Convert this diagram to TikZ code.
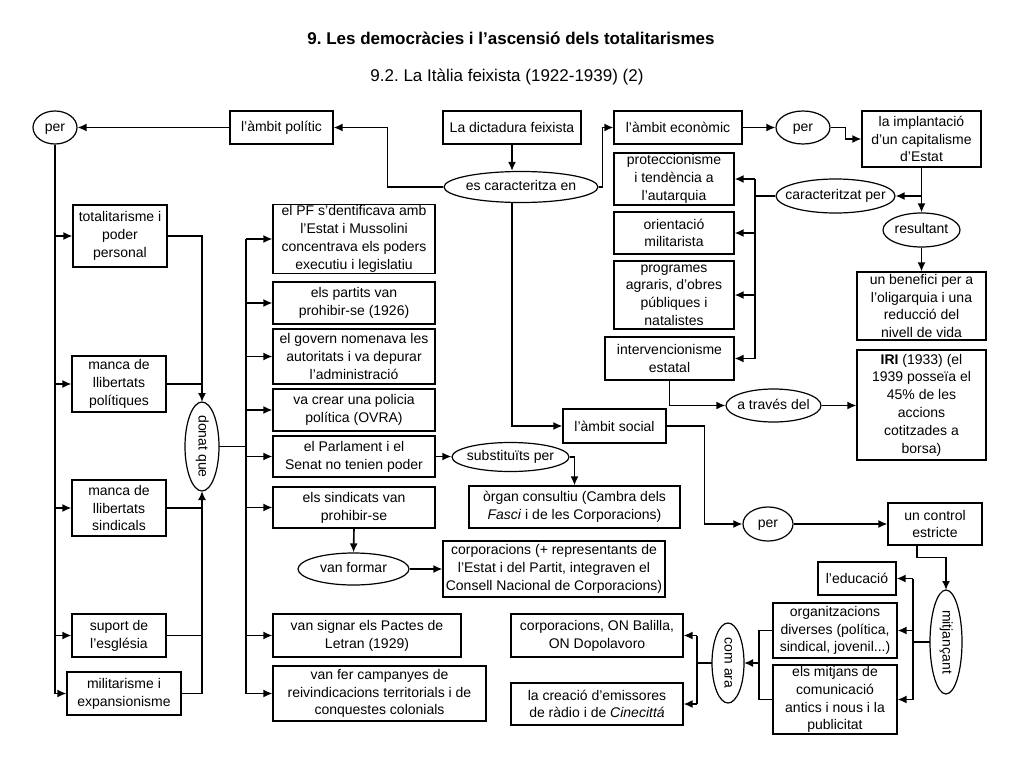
\documentclass[tikz,border=0pt]{standalone}
\usepackage{fontspec}
\setmainfont{Liberation Sans}
\usetikzlibrary{shapes.geometric,arrows.meta,calc}
\newcommand{\elltxt}[1]{\makebox[0pt]{#1}}
\frenchspacing
\begin{document}
\begin{tikzpicture}[x=1pt,y=-1pt,
 box/.style={draw,line width=1.2pt,inner sep=1pt,align=center,font=\fontsize{14}{17.8}\selectfont},
 oval/.style={draw,ellipse,line width=1.2pt,inner sep=0pt,text height=9pt,text depth=2pt,font=\fontsize{14}{17.8}\selectfont},
 ln/.style={line width=1.6pt},
 arr/.style={ln,-{Latex[length=9pt,width=8pt]}}]
\useasboundingbox (0,0) rectangle (1024,768);
\fill[white] (0,0) rectangle (1024,768);

\node[font=\bfseries\fontsize{17}{20}\selectfont] (title) at (511,38) {9. Les democràcies i l’ascensió dels totalitarismes};
\node[font=\fontsize{17}{20}\selectfont] (sub) at (507,77) {9.2. La Itàlia feixista (1922-1939) (2)};

% top row
\node[box,minimum width=103,minimum height=33] (pol) at (281.5,127.5) {l’àmbit polític};
\node[box,minimum width=138,minimum height=33] (dict) at (512,127.5) {La dictadura feixista};
\node[box,minimum width=128,minimum height=33] (econ) at (678,127.5) {l’àmbit econòmic};
\node[box,minimum width=119,minimum height=56] (impl) at (921.5,139) {la implantació\\d’un capitalisme\\d’Estat};

\node[oval,minimum width=44,minimum height=33] (perL) at (55,127.5) {\elltxt{per}};
\node[oval,minimum width=154,minimum height=31] (escar) at (521,187) {\elltxt{es caracteritza en}};
\node[oval,minimum width=54,minimum height=33] (perE) at (803,127.5) {\elltxt{per}};
\node[oval,minimum width=119,minimum height=34] (caract) at (835.5,196) {\elltxt{caracteritzat per}};
\node[oval,minimum width=77,minimum height=34] (result) at (921.5,230) {\elltxt{resultant}};

% economic column
\node[box,minimum width=120,minimum height=52] (prot) at (674,179) {proteccionisme\\i tendència a\\l’autarquia};
\node[box,minimum width=120,minimum height=42] (orient) at (674,233) {orientació\\militarista};
\node[box,minimum width=120,minimum height=68] (prog) at (674,295) {programes\\agraris, d’obres\\públiques i\\natalistes};
\node[box,minimum width=129,minimum height=43] (interv) at (669.5,358.5) {intervencionisme\\estatal};
\node[box,minimum width=129,minimum height=68] (benef) at (921.5,306) {un benefici per a\\l’oligarquia i una\\reducció del\\nivell de vida};
\node[box,minimum width=129,minimum height=110] (IRI) at (921.5,405) {\textbf{IRI} (1933) (el\\1939 posseïa el\\45\% de les\\accions\\cotitzades a\\borsa)};
\node[oval,minimum width=95,minimum height=33] (traves) at (773.5,405.5) {\elltxt{a través del}};

% social
\node[box,minimum width=103,minimum height=34] (social) at (614.5,426) {l’àmbit social};
\node[oval,minimum width=50,minimum height=34] (perS) at (768,524) {\elltxt{per}};
\node[box,minimum width=94,minimum height=42] (control) at (935,524) {un control\\estricte};
\node[oval,rotate=-90,minimum width=104,minimum height=32] (mitj) at (946,642) {\elltxt{mitjançant}};
\node[box,minimum width=78,minimum height=33] (educ) at (857,578.5) {l’educació};
\node[box,minimum width=124,minimum height=55] (organ) at (835,630.5) {organitzacions\\diverses (política,\\sindical, jovenil...)};
\node[box,minimum width=124,minimum height=69] (mitjans) at (835,699.5) {els mitjans de\\comunicació\\antics i nous i la\\publicitat};
\node[oval,rotate=-90,minimum width=80,minimum height=32] (comara) at (728,663) {\elltxt{com ara}};
\node[box,minimum width=172,minimum height=43] (corpON) at (597,635.5) {corporacions, ON Balilla,\\ON Dopolavoro};
\node[box,minimum width=172,minimum height=42] (creacio) at (597,704) {la creació d’emissores\\de ràdio i de \textit{Cinecittá}};

% political middle column
\node[box,minimum width=162,minimum height=68] (PF) at (354,239) {el PF s’dentificava amb\\l’Estat i Mussolini\\concentrava els poders\\executiu i legislatiu};
\node[box,minimum width=162,minimum height=42] (partits) at (354,303) {els partits van\\prohibir-se (1926)};
\node[box,minimum width=162,minimum height=55] (govern) at (354,356.5) {el govern nomenava les\\autoritats i va depurar\\l’administració};
\node[box,minimum width=162,minimum height=42] (crear) at (354,410) {va crear una policia\\política (OVRA)};
\node[box,minimum width=162,minimum height=41] (parl) at (354,456.5) {el Parlament i el\\Senat no tenien poder};
\node[box,minimum width=162,minimum height=41] (sind) at (354,507.5) {els sindicats van\\prohibir-se};
\node[box,minimum width=188,minimum height=43] (signar) at (367,635.5) {van signar els Pactes de\\Letran (1929)};
\node[box,minimum width=213,minimum height=55] (fer) at (379.5,693.5) {van fer campanyes de\\reivindicacions territorials i de\\conquestes colonials};
\node[oval,minimum width=117,minimum height=29] (subst) at (510.5,457) {\elltxt{substituïts per}};
\node[box,minimum width=211,minimum height=42] (oc) at (574.5,507) {òrgan consultiu (Cambra dels\\\textit{Fasci} i de les Corporacions)};
\node[oval,minimum width=111,minimum height=32] (vf) at (353.5,569) {\elltxt{van formar}};
\node[box,minimum width=222,minimum height=56] (corpPlus) at (554,569) {corporacions (+ representants de\\l’Estat i del Partit, integraven el\\Consell Nacional de Corporacions)};

% left column
\node[box,minimum width=94,minimum height=62] (total) at (120,236) {totalitarisme i\\poder\\personal};
\node[box,minimum width=94,minimum height=56] (mancaP) at (119,384) {manca de\\llibertats\\polítiques};
\node[box,minimum width=94,minimum height=56] (mancaS) at (119,508) {manca de\\llibertats\\sindicals};
\node[box,minimum width=94,minimum height=43] (suport) at (119,635.5) {suport de\\l’església};
\node[box,minimum width=114,minimum height=43] (milit) at (124,693.5) {militarisme i\\expansionisme};
\node[oval,rotate=-90,minimum width=89,minimum height=34] (donat) at (202,446.5) {\elltxt{donat que}};

% connectors top
\draw[arr] (dict.south) -- (dict.south |- escar.north);
\draw[arr] (escar.west) -- ++(-56,0) |- (pol.east);
\draw[arr] (escar.east) -- ++(4,0) |- (econ.west);
\draw[arr] (pol.west) -- (perL.east);
\draw[arr] (econ.east) -- (perE.west);
\draw[arr] (perE.east) -- ++(15,0) |- (impl.west);
\draw[arr] (impl.south) -- (result.north);
\coordinate (cr) at (impl.south |- caract.east);
\draw[arr] (cr) -- (caract.east);
\coordinate (cj) at (755,196);
\draw[ln] (caract.west) -- (cj);
\draw[ln] (cj |- prot.east) -- (cj |- interv.east);
\foreach \n in {prot,orient,prog,interv} \draw[arr] (cj |- \n.east) -- (\n.east);
\draw[arr] (result.south) -- (benef.north);
\draw[arr] (interv.south) |- (traves.west);
\draw[arr] (traves.east) -- (traves.east -| IRI.west);

% social
\draw[arr] (escar.south -| dict.south) |- (social.west);
\draw[arr] (social.east) -- ++(38,0) |- (perS.west);
\draw[arr] (perS.east) -- (control.west);
\draw[arr] ([xshift=-18pt]control.south) -- ++(0,12) -| ([yshift=52pt]mitj.center);
\coordinate (mj) at (913,642);
\draw[ln] ([xshift=-16pt]mitj.center) -- (mj);
\draw[ln] (mj |- educ.east) -- (mj |- mitjans.east);
\foreach \n in {educ,organ,mitjans} \draw[arr] (mj |- \n.east) -- (\n.east);
\coordinate (cj2) at (759,663);
\draw[ln] (organ.west) -- (organ.west -| cj2) -- (mitjans.west -| cj2) -- (mitjans.west);
\draw[arr] (cj2) -- ([xshift=16pt]comara.center);
\coordinate (cj3) at (697,663);
\draw[ln] ([xshift=-16pt]comara.center) -- (cj3);
\draw[ln] (cj3 |- corpON.east) -- (cj3 |- creacio.east);
\foreach \n in {corpON,creacio} \draw[arr] (cj3 |- \n.east) -- (\n.east);

% left
\draw[ln] (perL.south) -- (perL.south |- milit.west);
\foreach \n in {total,mancaP,mancaS,suport,milit} \draw[arr] (perL.south |- \n.west) -- (\n.west);
\draw[arr] (total.east) -| ([yshift=44.5pt]donat.center);
\draw[ln] (mancaP.east) -- (mancaP.east -| donat.center);
\draw[arr] (milit.east) -| ([yshift=-44.5pt]donat.center);
\draw[ln] (suport.east) -- (suport.east -| donat.center);
\draw[ln] (mancaS.east) -- (mancaS.east -| donat.center);

% middle
\coordinate (dj) at (246,446.5);
\draw[ln] ([xshift=17pt]donat.center) -- (dj);
\draw[ln] (dj |- PF.west) -- (dj |- fer.west);
\foreach \n in {PF,partits,govern,crear,parl,sind,signar,fer} \draw[arr] (dj |- \n.west) -- (\n.west);
\draw[arr] (parl.east) -- (parl.east -| subst.west);
\draw[arr] (subst.east) -| (oc.north);
\draw[arr] (sind.south) -- (vf.north);
\draw[arr] (vf.east) -- (corpPlus.west);
\end{tikzpicture}
\end{document}
